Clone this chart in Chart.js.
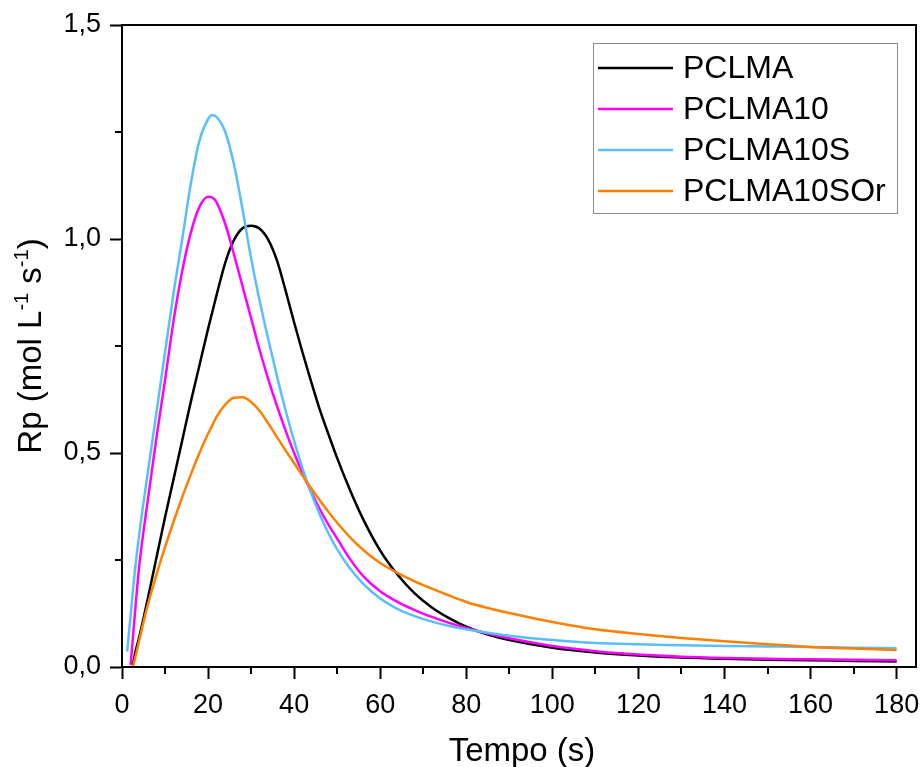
<!DOCTYPE html>
<html><head><meta charset="utf-8">
<script src="https://cdn.jsdelivr.net/npm/chart.js@4/dist/chart.umd.min.js"></script>
<style>html,body{margin:0;padding:0;background:#fff;}#wrap{width:922px;height:767px;}</style>
</head><body><div id="wrap"><canvas id="c" width="922" height="767"></canvas></div>
<script>
// ---- data (time in s, Rp in mol L-1 s-1) ----
const time = [1.2, 2, 2.5, 3, 4, 6, 8, 10, 12, 14, 16, 18, 20, 21, 22, 24, 26, 28, 30, 32, 34, 36, 38, 40, 42, 44, 46, 48, 50, 53, 56, 60, 64, 68, 72, 76, 80, 85, 90, 100, 110, 120, 130, 140, 150, 160, 170, 180];
const pclma = [null, null, 0.003, 0.03, 0.07, 0.16, 0.255, 0.35, 0.44, 0.53, 0.62, 0.705, 0.79, 0.83, 0.87, 0.945, 0.997, 1.025, 1.031, 1.024, 0.998, 0.95, 0.88, 0.805, 0.733, 0.665, 0.60, 0.543, 0.488, 0.413, 0.346, 0.272, 0.216, 0.172, 0.139, 0.114, 0.094, 0.076, 0.063, 0.045, 0.034, 0.027, 0.022, 0.019, 0.017, 0.016, 0.014, 0.013];
const pclma10 = [null, 0.005, 0.065, 0.125, 0.235, 0.39, 0.535, 0.67, 0.81, 0.925, 1.015, 1.075, 1.099, 1.097, 1.085, 1.035, 0.965, 0.89, 0.815, 0.74, 0.672, 0.61, 0.553, 0.50, 0.452, 0.408, 0.368, 0.332, 0.30, 0.252, 0.213, 0.177, 0.152, 0.133, 0.117, 0.103, 0.091, 0.078, 0.067, 0.049, 0.037, 0.029, 0.024, 0.021, 0.019, 0.018, 0.017, 0.016];
const pclma10s = [0.036, 0.12, 0.175, 0.225, 0.31, 0.455, 0.595, 0.735, 0.875, 1.0, 1.13, 1.23, 1.28, 1.29, 1.285, 1.25, 1.175, 1.07, 0.955, 0.855, 0.765, 0.68, 0.60, 0.528, 0.463, 0.405, 0.355, 0.312, 0.275, 0.23, 0.195, 0.16, 0.136, 0.119, 0.106, 0.096, 0.088, 0.08, 0.073, 0.063, 0.056, 0.053, 0.051, 0.049, 0.048, 0.047, 0.045, 0.044];
const pclma10sor = [null, null, 0.0, 0.018, 0.062, 0.145, 0.215, 0.28, 0.34, 0.397, 0.45, 0.50, 0.545, 0.565, 0.585, 0.613, 0.629, 0.63, 0.619, 0.598, 0.569, 0.537, 0.506, 0.476, 0.446, 0.417, 0.389, 0.362, 0.337, 0.303, 0.274, 0.243, 0.22, 0.20, 0.183, 0.167, 0.152, 0.138, 0.126, 0.105, 0.088, 0.077, 0.068, 0.06, 0.053, 0.047, 0.043, 0.040];
const seriesNames = ['PCLMA', 'PCLMA10', 'PCLMA10S', 'PCLMA10SOr'];
const xMinorTicks = [10, 30, 50, 70, 90, 110, 130, 150, 170];
const yMinorTicks = [0.25, 0.75, 1.25];
const xTitle = 'Tempo (s)';
const yTitleParts = [['Rp (mol L', false], ['-1', true], [' s', false], ['-1', true], [')', false]];

const FONT = "'Liberation Sans', Arial, Helvetica, sans-serif";
const colors = ['#000000', '#ff00ff', '#58bfff', '#ff8000'];
const allSeries = [pclma, pclma10, pclma10s, pclma10sor];

Chart.defaults.font.family = FONT;
Chart.defaults.font.size = 27;
Chart.defaults.color = '#000';

function toPts(vals) {
  const out = [];
  time.forEach((t, i) => { if (vals[i] !== null) out.push({x: t, y: vals[i]}); });
  return out;
}

const framePlugin = {
  id: 'frame',
  afterDraw(chart) {
    const ctx = chart.ctx, a = chart.chartArea;
    const xs = chart.scales.x, ys = chart.scales.y;
    ctx.save();
    ctx.strokeStyle = '#000';
    ctx.lineWidth = 2;
    ctx.strokeRect(a.left, a.top, a.right - a.left, a.bottom - a.top);
    // minor ticks
    ctx.beginPath();
    xMinorTicks.forEach(v => { const p = Math.round(xs.getPixelForValue(v)); ctx.moveTo(p, a.bottom); ctx.lineTo(p, a.bottom + 7); });
    yMinorTicks.forEach(v => { const p = Math.round(ys.getPixelForValue(v)); ctx.moveTo(a.left, p); ctx.lineTo(a.left - 7, p); });
    ctx.stroke();

    // legend
    const lx = 593, ly = 43, lw = 304, lh = 170;
    ctx.fillStyle = '#fff';
    ctx.fillRect(lx, ly, lw, lh);
    ctx.lineWidth = 1;
    ctx.strokeStyle = '#8c8c8c';
    ctx.strokeRect(lx + 0.5, ly + 0.5, lw, lh);
    ctx.font = '32px ' + FONT;
    ctx.textBaseline = 'middle';
    ctx.textAlign = 'left';
    chart.data.datasets.forEach((ds, i) => {
      const yy = 68 + i * 41;
      ctx.strokeStyle = ds.borderColor;
      ctx.lineWidth = 2.5;
      ctx.beginPath(); ctx.moveTo(598, yy); ctx.lineTo(673, yy); ctx.stroke();
      ctx.fillStyle = '#000';
      ctx.fillText(ds.label, 683, yy + 1);
    });

    // x title
    ctx.fillStyle = '#000';
    ctx.font = '33px ' + FONT;
    ctx.textAlign = 'center';
    ctx.textBaseline = 'alphabetic';
    ctx.fillText(xTitle, (a.left + a.right) / 2 + 3, 761);

    // y title with superscripts
    const mainF = '33px ' + FONT, supF = '20px ' + FONT;
    let total = 0;
    yTitleParts.forEach(([t, sup]) => { ctx.font = sup ? supF : mainF; total += ctx.measureText(t).width; });
    ctx.translate(41, (a.top + a.bottom) / 2);
    ctx.rotate(-Math.PI / 2);
    ctx.textAlign = 'left';
    let cx = -total / 2;
    yTitleParts.forEach(([t, sup]) => {
      ctx.font = sup ? supF : mainF;
      ctx.fillText(t, cx, sup ? -13 : 0);
      cx += ctx.measureText(t).width;
    });
    ctx.restore();
  }
};

const tickFont = {family: FONT, size: 27};

new Chart(document.getElementById('c'), {
  type: 'line',
  data: {
    datasets: allSeries.map((s, i) => ({
      label: seriesNames[i],
      data: toPts(s),
      borderColor: colors[i],
      backgroundColor: colors[i],
      borderWidth: 2.5,
      pointRadius: 0,
      tension: 0.4,
      cubicInterpolationMode: 'monotone',
      fill: false,
      order: 4 - i
    }))
  },
  options: {
    responsive: false,
    animation: false,
    devicePixelRatio: 1,
    layout: {padding: {top: 25, right: 6, left: 0, bottom: 0}},
    plugins: {legend: {display: false}, tooltip: {enabled: false}},
    scales: {
      x: {
        type: 'linear', min: 0, max: 184.5,
        afterFit(s) { s.height = 100; s.paddingLeft = 0; s.paddingRight = 0; },
        ticks: {stepSize: 20, includeBounds: false, font: tickFont, color: '#000', padding: 10, maxRotation: 0, autoSkip: false},
        grid: {display: true, drawOnChartArea: false, drawTicks: true, tickLength: 12, tickWidth: 2, tickColor: '#000'},
        border: {display: true, color: '#000', width: 2}
      },
      y: {
        type: 'linear', min: 0, max: 1.5,
        afterFit(s) { s.width = 122; s.paddingTop = 0; s.paddingBottom = 0; },
        ticks: {stepSize: 0.5, includeBounds: false, font: tickFont, color: '#000', padding: 9,
          callback: v => v.toFixed(1).replace('.', ',')},
        grid: {display: true, drawOnChartArea: false, drawTicks: true, tickLength: 12, tickWidth: 2, tickColor: '#000'},
        border: {display: true, color: '#000', width: 2}
      }
    }
  },
  plugins: [framePlugin]
});
</script></body></html>
